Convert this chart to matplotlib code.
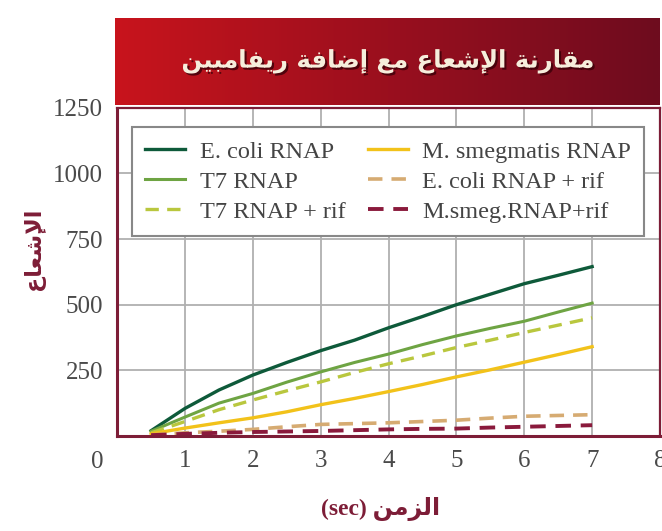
import matplotlib
matplotlib.use("Agg")
import matplotlib.pyplot as plt
import matplotlib.patheffects as pe
from matplotlib.colors import LinearSegmentedColormap
import numpy as np

# time (sec)
times = [0.5, 1, 1.5, 2, 2.5, 3, 3.5, 4, 4.5, 5, 5.5, 6, 6.5, 7]

ecoli = [20, 105, 175, 232, 280, 325, 365, 412, 455, 500, 540, 580, 612, 645]
t7 = [18, 72, 125, 162, 205, 244, 280, 312, 348, 381, 410, 437, 472, 506]
t7_rif = [12, 55, 100, 137, 172, 206, 242, 275, 305, 337, 365, 394, 422, 450]
msmeg = [8, 30, 50, 69, 92, 119, 143, 169, 196, 225, 252, 281, 310, 340]
ecoli_rif = [4, 12, 18, 25, 35, 44, 47, 50, 55, 60, 68, 75, 78, 81]
msmeg_rif = [3, 8, 12, 15, 17, 19, 22, 25, 27, 28, 32, 35, 38, 41]

labels = ["E. coli RNAP", "T7 RNAP", "T7 RNAP + rif",
          "M. smegmatis RNAP", "E. coli RNAP + rif", "M.smeg.RNAP+rif"]

x_ticks = [1, 2, 3, 4, 5, 6, 7, 8]
y_ticks = [250, 500, 750, 1000, 1250]

title_ar = "مقارنة الإشعاع مع إضافة ريفامبين"
ylabel_ar = "الإشعاع"
xlabel_ar = "الزمن"

MAROON = "#7d1d37"

# minimal arabic shaping (matplotlib has no shaping / bidi)
FORMS = {
    'ا': ('\uFE8D', '\uFE8E', None, None),
    'إ': ('\uFE87', '\uFE88', None, None),
    'ب': ('\uFE8F', '\uFE90', '\uFE91', '\uFE92'),
    'ة': ('\uFE93', '\uFE94', None, None),
    'ر': ('\uFEAD', '\uFEAE', None, None),
    'ز': ('\uFEAF', '\uFEB0', None, None),
    'ش': ('\uFEB5', '\uFEB6', '\uFEB7', '\uFEB8'),
    'ض': ('\uFEBD', '\uFEBE', '\uFEBF', '\uFEC0'),
    'ع': ('\uFEC9', '\uFECA', '\uFECB', '\uFECC'),
    'ف': ('\uFED1', '\uFED2', '\uFED3', '\uFED4'),
    'ق': ('\uFED5', '\uFED6', '\uFED7', '\uFED8'),
    'ل': ('\uFEDD', '\uFEDE', '\uFEDF', '\uFEE0'),
    'م': ('\uFEE1', '\uFEE2', '\uFEE3', '\uFEE4'),
    'ن': ('\uFEE5', '\uFEE6', '\uFEE7', '\uFEE8'),
    'ي': ('\uFEF1', '\uFEF2', '\uFEF3', '\uFEF4'),
}
LAM_ALEF = {'ا': ('\uFEFB', '\uFEFC'), 'إ': ('\uFEF9', '\uFEFA')}


def dual(c):
    return c in FORMS and FORMS[c][2] is not None


def shape(text):
    out = []
    i = 0
    n = len(text)
    while i < n:
        c = text[i]
        if c not in FORMS:
            out.append(c)
            i += 1
            continue
        prev = text[i - 1] if i > 0 else None
        join_prev = prev is not None and dual(prev)
        if c == 'ل' and i + 1 < n and text[i + 1] in LAM_ALEF:
            out.append(LAM_ALEF[text[i + 1]][1 if join_prev else 0])
            i += 2
            continue
        nxt = text[i + 1] if i + 1 < n else None
        join_next = dual(c) and nxt in FORMS
        iso, fin, ini, med = FORMS[c]
        if join_prev and join_next:
            out.append(med)
        elif join_prev:
            out.append(fin)
        elif join_next:
            out.append(ini)
        else:
            out.append(iso)
        i += 1
    return ''.join(reversed(out))


plt.rcParams['font.family'] = ['Liberation Serif', 'DejaVu Sans']

fig = plt.figure(figsize=(6.62, 5.31), dpi=100)
ax = fig.add_axes([0.177, 0.179, 0.820, 0.618])

dash = (0, (4, 2.5))
ax.plot(times, ecoli, color="#0e5a3a", lw=2.4, label=labels[0])
ax.plot(times, t7, color="#6ea443", lw=2.2, label=labels[1])
ax.plot(times, t7_rif, color="#b9c73e", lw=2.4, ls=dash, label=labels[2])
ax.plot(times, msmeg, color="#f2c21a", lw=2.4, label=labels[3])
ax.plot(times, ecoli_rif, color="#d6ab72", lw=2.6, ls=dash, label=labels[4])
ax.plot(times, msmeg_rif, color="#8a1a3c", lw=2.8, ls=dash, label=labels[5])

ax.set_xlim(0, 8)
ax.set_ylim(0, 1250)
ax.set_xticks(x_ticks)
ax.set_yticks(y_ticks)
ax.tick_params(length=0, labelsize=18, labelcolor="#4a4a4a", pad=10)
ax.grid(True, color="#b0b0b0", lw=1.3)
ax.set_axisbelow(True)
for s in ax.spines.values():
    s.set_color(MAROON)
    s.set_linewidth(1.6)
ax.spines['left'].set_linewidth(2.2)
ax.spines['bottom'].set_linewidth(2.2)

# lonely 0 at the corner
ax.annotate("0", xy=(0, 0), xycoords="axes fraction", xytext=(-14, -10.5),
            textcoords="offset points", ha="center", va="top",
            fontsize=18, color="#4a4a4a")

ax.set_xlabel("(sec) " + shape(xlabel_ar), fontsize=17, fontweight="bold",
              color=MAROON, family=['Liberation Serif', 'DejaVu Sans'])
ax.xaxis.set_label_coords(0.485, -0.185)
ax.set_ylabel(shape(ylabel_ar), fontsize=16, fontweight="bold",
              color=MAROON, family=['DejaVu Sans'])
ax.yaxis.set_label_coords(-0.133, 0.57)

leg = ax.legend(ncol=2, loc="upper left", bbox_to_anchor=(0.027, 0.94),
                fontsize=17.5, handlelength=1.65, handletextpad=0.6,
                labelspacing=0.33, borderpad=0.55, fancybox=False, framealpha=1,
                edgecolor="#888888", columnspacing=0.9, borderaxespad=0)
leg.get_frame().set_linewidth(1.5)
for t in leg.get_texts():
    t.set_color("#444444")

# red title banner
tax = fig.add_axes([0.174, 0.802, 0.823, 0.164])
grad = np.linspace(0, 1, 256).reshape(1, -1)
cmap = LinearSegmentedColormap.from_list("banner", ["#c8141c", "#9a0f1e", "#6e0c1f"])
tax.imshow(grad, aspect="auto", cmap=cmap, extent=(0, 1, 0, 1))
tax.set_xlim(0, 1)
tax.set_ylim(0, 1)
tax.axis("off")
tax.text(0.5, 0.5, shape(title_ar), ha="center", va="center", fontsize=17.5,
         fontweight="bold", color="#f6eedc", family=['DejaVu Sans'],
         path_effects=[pe.withSimplePatchShadow(offset=(1.5, -1.5), shadow_rgbFace="#3a0008", alpha=0.8)])

fig.savefig("out.png", dpi=100)
